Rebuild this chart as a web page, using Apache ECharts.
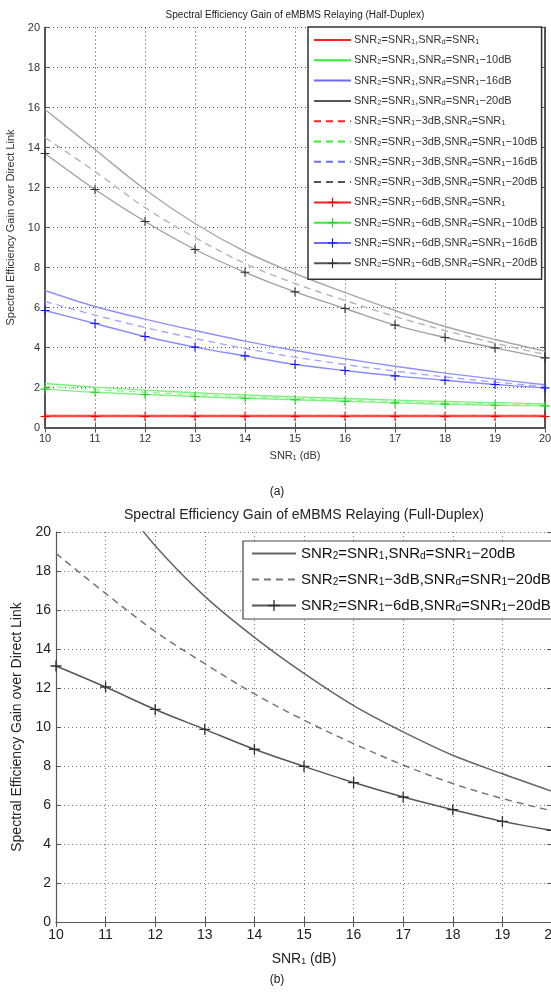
<!DOCTYPE html>
<html>
<head>
<meta charset="utf-8">
<script src="https://cdn.jsdelivr.net/npm/echarts@6/dist/echarts.min.js"></script>
<style>
html, body { margin: 0; padding: 0; background: #fff; }
#chart { width: 551px; height: 994px; }
</style>
</head>
<body>
<div id="chart"></div>
<script>
// x values (SNR1 in dB), shared by both panels
const snr1 = [10, 11, 12, 13, 14, 15, 16, 17, 18, 19, 20];

// (a) half-duplex
const redSolid = [0.60, 0.60, 0.60, 0.60, 0.60, 0.60, 0.60, 0.60, 0.60, 0.60, 0.60];
const redDash = [0.57, 0.57, 0.57, 0.57, 0.57, 0.57, 0.57, 0.57, 0.57, 0.57, 0.57];
const redPlus = [0.55, 0.55, 0.55, 0.55, 0.55, 0.55, 0.55, 0.55, 0.55, 0.55, 0.55];
const greenSolid = [2.20, 2.02, 1.87, 1.74, 1.63, 1.53, 1.45, 1.37, 1.30, 1.24, 1.18];
const greenDash = [2.05, 1.90, 1.76, 1.64, 1.54, 1.45, 1.37, 1.30, 1.24, 1.18, 1.13];
const greenPlus = [1.92, 1.76, 1.65, 1.55, 1.46, 1.39, 1.31, 1.23, 1.17, 1.11, 1.08];
const blueSolid = [6.85, 6.05, 5.42, 4.85, 4.32, 3.85, 3.44, 3.06, 2.72, 2.42, 2.14];
const blueDash = [6.30, 5.62, 5.00, 4.45, 3.95, 3.52, 3.15, 2.82, 2.53, 2.27, 2.05];
const bluePlus = [5.85, 5.20, 4.55, 4.02, 3.58, 3.15, 2.85, 2.58, 2.36, 2.15, 1.98];
const graySolid = [15.9, 13.9, 11.9, 10.2, 8.8, 7.7, 6.75, 5.85, 5.05, 4.4, 3.82];
const grayDash = [14.5, 12.8, 11.0, 9.5, 8.2, 7.2, 6.35, 5.55, 4.85, 4.22, 3.65];
const grayPlus = [13.7, 11.9, 10.3, 8.9, 7.76, 6.78, 5.95, 5.12, 4.5, 3.98, 3.48];

// (b) full-duplex
const fdSolid = [26.0, 22.5, 19.3, 16.7, 14.6, 12.75, 11.1, 9.75, 8.55, 7.6, 6.7];
const fdDash = [18.9, 16.85, 14.9, 13.25, 11.7, 10.35, 9.15, 8.05, 7.1, 6.33, 5.7];
const fdPlus = [13.13, 12.05, 10.9, 9.88, 8.86, 7.98, 7.15, 6.41, 5.76, 5.16, 4.7];

const namesA = [
  'SNR2=SNR1,SNRd=SNR1',
  'SNR2=SNR1,SNRd=SNR1−10dB',
  'SNR2=SNR1,SNRd=SNR1−16dB',
  'SNR2=SNR1,SNRd=SNR1−20dB',
  'SNR2=SNR1−3dB,SNRd=SNR1',
  'SNR2=SNR1−3dB,SNRd=SNR1−10dB',
  'SNR2=SNR1−3dB,SNRd=SNR1−16dB',
  'SNR2=SNR1−3dB,SNRd=SNR1−20dB',
  'SNR2=SNR1−6dB,SNRd=SNR1',
  'SNR2=SNR1−6dB,SNRd=SNR1−10dB',
  'SNR2=SNR1−6dB,SNRd=SNR1−16dB',
  'SNR2=SNR1−6dB,SNRd=SNR1−20dB',
];
// trailing space keeps panel (b) legend separate from panel (a)
const namesB = [
  'SNR2=SNR1,SNRd=SNR1−20dB ',
  'SNR2=SNR1−3dB,SNRd=SNR1−20dB ',
  'SNR2=SNR1−6dB,SNRd=SNR1−20dB ',
];

// legend swatch colours in (a) are stronger than the plotted curves
const legendColorsA = ['#ff2020', '#30f030', '#6a6aff', '#555555'];

const FONT = '"Liberation Sans", Arial, sans-serif';
const PLUS = 'path://M4.4,0H5.6V4.4H10V5.6H5.6V10H4.4V5.6H0V4.4H4.4Z';
const HIDDEN = { color: 'rgba(0,0,0,0)', borderWidth: 0 };

const pairs = (ys) => snr1.map((x, i) => [x, ys[i]]);
const subs = (name) => name.trim().replace(/SNR([12d])/g, 'SNR{s|$1}');

function lineSeries(name, ys, grid, color, dashed, plus, markColor, width) {
  return {
    type: 'line',
    name: name,
    xAxisIndex: grid * 2,
    yAxisIndex: grid * 2,
    data: pairs(ys),
    smooth: 0.35,
    symbol: plus ? PLUS : 'none',
    symbolSize: grid === 0 ? 9 : 11,
    showSymbol: plus,
    itemStyle: { color: markColor || color },
    lineStyle: {
      color: color,
      width: width || 1.4,
      type: dashed ? [7, 5] : 'solid',
    },
    emphasis: { disabled: true },
    animation: false,
    z: plus ? 3 : 2,
  };
}

function axesFor(grid, fontSize, lineColor, lineWidth, gridColor, labelColor, yName, xName, nameGapX, nameGapY, nameSize) {
  const split = { show: true, lineStyle: { color: gridColor, width: 1, type: [1, 3] } };
  const tick = { show: true, inside: true, length: 5, lineStyle: { color: lineColor, width: 1 } };
  const line = { show: true, lineStyle: { color: lineColor, width: lineWidth } };
  const xBottom = {
    type: 'value', gridIndex: grid, min: 10, max: 20, interval: 1, position: 'bottom',
    axisLine: line, axisTick: tick, splitLine: split,
    axisLabel: { fontSize: fontSize, color: labelColor, fontFamily: FONT, margin: 6 },
    name: xName, nameLocation: 'middle', nameGap: nameGapX,
    nameTextStyle: {
      fontSize: nameSize, color: labelColor, fontFamily: FONT,
      rich: { s: { fontSize: nameSize * 0.62, verticalAlign: 'bottom', color: labelColor, fontFamily: FONT } },
    },
  };
  const xTop = {
    type: 'value', gridIndex: grid, min: 10, max: 20, interval: 1, position: 'top',
    axisLine: line, axisTick: tick, splitLine: { show: false }, axisLabel: { show: false },
  };
  const yLeft = {
    type: 'value', gridIndex: grid, min: 0, max: 20, interval: 2, position: 'left',
    axisLine: line, axisTick: tick, splitLine: split,
    axisLabel: { fontSize: fontSize, color: labelColor, fontFamily: FONT, margin: 5 },
    name: yName, nameLocation: 'middle', nameGap: nameGapY,
    nameTextStyle: { fontSize: nameSize, color: labelColor, fontFamily: FONT },
  };
  const yRight = {
    type: 'value', gridIndex: grid, min: 0, max: 20, interval: 2, position: 'right',
    axisLine: line, axisTick: tick, splitLine: { show: false }, axisLabel: { show: false },
  };
  return { x: [xBottom, xTop], y: [yLeft, yRight] };
}

const axA = axesFor(0, 11, '#555', 2, '#444', '#333',
  'Spectral Efficiency Gain over Direct Link', 'SNR{s|1} (dB)', 23, 26, 11);
const axB = axesFor(1, 14, '#555', 1.2, '#777', '#222',
  'Spectral Efficiency Gain over Direct Link', 'SNR{s|1} (dB)', 30, 28, 14);

const series = [
  lineSeries(namesA[0], redSolid, 0, '#ff3b3b', false, false),
  lineSeries(namesA[1], greenSolid, 0, '#7cf07c', false, false),
  lineSeries(namesA[2], blueSolid, 0, '#8f8fff', false, false),
  lineSeries(namesA[3], graySolid, 0, '#a8a8a8', false, false),
  lineSeries(namesA[4], redDash, 0, '#ff6b6b', true, false),
  lineSeries(namesA[5], greenDash, 0, '#9cf59c', true, false),
  lineSeries(namesA[6], blueDash, 0, '#a6a6ff', true, false),
  lineSeries(namesA[7], grayDash, 0, '#b4b4b4', true, false),
  lineSeries(namesA[8], redPlus, 0, '#ff4848', false, true, '#ff0000'),
  lineSeries(namesA[9], greenPlus, 0, '#86ee86', false, true, '#1fd01f'),
  lineSeries(namesA[10], bluePlus, 0, '#8a8aff', false, true, '#1414ff'),
  lineSeries(namesA[11], grayPlus, 0, '#a0a0a0', false, true, '#333333'),
  lineSeries(namesB[0], fdSolid, 1, '#666', false, false, null, 1.5),
  lineSeries(namesB[1], fdDash, 1, '#777', true, false, null, 1.5),
  lineSeries(namesB[2], fdPlus, 1, '#555', false, true, '#333', 1.5),
];

// legend icons: plain lines get no marker, "+" series keep theirs
const legendDataA = namesA.map((n, i) => {
  const item = { name: n, lineStyle: { color: legendColorsA[i % 4] } };
  if (i < 8) item.itemStyle = HIDDEN;
  return item;
});
const legendDataB = namesB.map((n, i) => (i < 2 ? { name: n, itemStyle: HIDDEN } : n));

const chart = echarts.init(document.getElementById('chart'), null, { renderer: 'canvas' });

const option = {
  backgroundColor: '#fff',
  animation: false,
  grid: [
    { left: 45, top: 27.5, width: 500, height: 400, outerBoundsMode: 'none', containLabel: false },
    { left: 56, top: 532, width: 496, height: 390, outerBoundsMode: 'none', containLabel: false },
  ],
  xAxis: [...axA.x, ...axB.x],
  yAxis: [...axA.y, ...axB.y],
  legend: [
    {
      data: legendDataA,
      orient: 'vertical',
      left: 308,
      top: 27,
      padding: [7, 4, 10, 5],
      itemWidth: 37,
      itemHeight: 12,
      itemGap: 8.3,
      borderColor: '#333',
      borderWidth: 1.5,
      backgroundColor: '#fff',
      selectedMode: false,
      formatter: subs,
      textStyle: {
        fontSize: 11, lineHeight: 12, color: '#333', fontFamily: FONT, padding: [0, 0, 0, -2],
        rich: { s: { fontSize: 7.5, lineHeight: 12, verticalAlign: 'bottom', color: '#333', fontFamily: FONT } },
      },
    },
    {
      data: legendDataB,
      orient: 'vertical',
      left: 243,
      top: 541,
      padding: [5, 8, 6, 8],
      itemWidth: 44,
      itemHeight: 14,
      itemGap: 11,
      borderColor: '#444',
      borderWidth: 1.2,
      backgroundColor: '#fff',
      selectedMode: false,
      formatter: subs,
      textStyle: {
        fontSize: 15, lineHeight: 15, color: '#111', fontFamily: FONT,
        rich: { s: { fontSize: 10, lineHeight: 15, verticalAlign: 'bottom', color: '#111', fontFamily: FONT } },
      },
    },
  ],
  graphic: [
    {
      type: 'text', x: 295, y: 15,
      style: {
        text: 'Spectral Efficiency Gain of eMBMS Relaying (Half-Duplex)',
        align: 'center', verticalAlign: 'middle', fill: '#222',
        font: '10px ' + FONT,
      },
    },
    {
      type: 'text', x: 304, y: 515,
      style: {
        text: 'Spectral Efficiency Gain of eMBMS Relaying (Full-Duplex)',
        align: 'center', verticalAlign: 'middle', fill: '#222',
        font: '14px ' + FONT,
      },
    },
    {
      type: 'text', x: 277, y: 492,
      style: { text: '(a)', align: 'center', verticalAlign: 'middle', fill: '#222', font: '12px ' + FONT },
    },
    {
      type: 'text', x: 277, y: 980,
      style: { text: '(b)', align: 'center', verticalAlign: 'middle', fill: '#222', font: '12px ' + FONT },
    },
  ],
  series: series,
};

chart.setOption(option);
</script>
</body>
</html>
